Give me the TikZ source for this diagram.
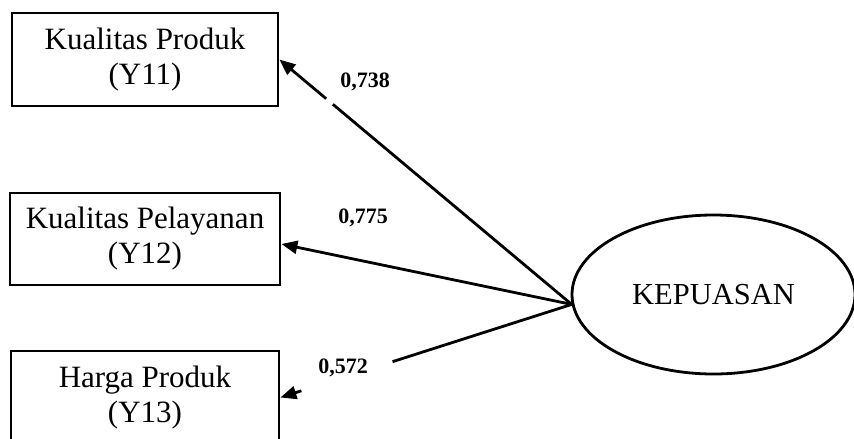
\documentclass[tikz,border=0pt]{standalone}
\usepackage{fontspec}
\setmainfont{Liberation Serif}
\usetikzlibrary{arrows.meta,shapes.geometric,calc}
\begin{document}
\begin{tikzpicture}[x=1pt,y=-1pt,
  every path/.style={line width=2.8pt},
  indicator/.style={draw,rectangle,minimum width=266pt,minimum height=93pt,
    inner sep=0pt,align=center,font=\fontsize{31}{35}\selectfont},
  construct/.style={draw,ellipse,minimum width=283pt,minimum height=159pt,
    inner sep=0pt,font=\fontsize{30.5}{34}\selectfont},
  loading/.style={font=\fontsize{22}{24}\selectfont\bfseries,inner sep=0pt},
  loadarrow/.style={-{Triangle[length=16pt,width=13pt]}}
]
\useasboundingbox (0,0) rectangle (854,439);

% indicator boxes
\node[indicator] (b1) at (145,59.5) {Kualitas Produk\\(Y11)};
\node[indicator,minimum width=270pt,minimum height=92pt] (b2) at (145,239) {Kualitas Pelayanan\\(Y12)};
\node[indicator,minimum width=268pt] (b3) at (145,397.5) {Harga Produk\\(Y13)};

% latent construct
\node[construct] (ell) at (713.5,294.5) {KEPUASAN};
\coordinate (hub) at (ell.184);

% loadings
\draw (hub) -- ($(hub)!0.817!(b1.east)$);
\draw[loadarrow] ($(hub)!0.84!(b1.east)$) -- (b1.east);

\coordinate (t2) at ($(b2.east)+(0,5)$);
\draw[loadarrow] (hub) -- (t2);

\draw (hub) -- ($(hub)!0.615!(b3.east)$);
\draw[loadarrow] ($(hub)!0.928!(b3.east)$) -- (b3.east);

\node[loading] (l1) at (365,82) {0,738};
\node[loading] (l2) at (363,218) {0,775};
\node[loading] (l3) at (343,368) {0,572};
\end{tikzpicture}
\end{document}
